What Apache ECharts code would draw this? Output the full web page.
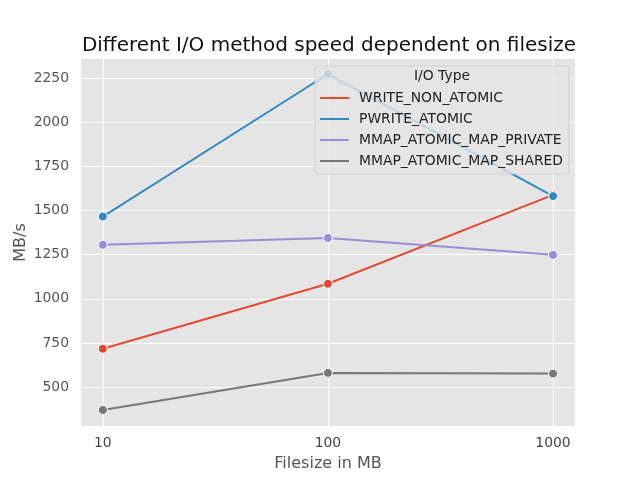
<!DOCTYPE html>
<html><head><meta charset="utf-8">
<script src="https://cdn.jsdelivr.net/npm/echarts@6/dist/echarts.min.js"></script>
<style>html,body{margin:0;padding:0;background:#fff}#c{width:640px;height:480px}</style>
</head><body><div id="c"></div>
<script>
const fileSizes = [10, 100, 1000];
const writeNonAtomic = [717, 1085, 1589];
const pwriteAtomic = [1466, 2274, 1582];
const mmapPrivate = [1306, 1345, 1249];
const mmapShared = [370, 580, 576];
const yTicks = [500, 750, 1000, 1250, 1500, 1750, 2000, 2250];
const xTicks = [10, 100, 1000];
const seriesNames = ['WRITE_NON_ATOMIC', 'PWRITE_ATOMIC', 'MMAP_ATOMIC_MAP_PRIVATE', 'MMAP_ATOMIC_MAP_SHARED'];
const seriesValues = [writeNonAtomic, pwriteAtomic, mmapPrivate, mmapShared];
const colors = ['#E24A33', '#348ABD', '#988ED5', '#777777'];
const FONT = 'DejaVu Sans';

const chart = echarts.init(document.getElementById('c'), null, {renderer: 'canvas'});
chart.setOption({
  animation: false,
  color: colors,
  backgroundColor: '#ffffff',
  textStyle: {fontFamily: FONT},
  title: {
    text: 'Different I/O method speed dependent on filesize',
    left: 324, top: 31, textAlign: 'center',
    textStyle: {fontFamily: FONT, fontSize: 20, fontWeight: 'normal', color: '#111'}
  },
  grid: {left: 81, right: 65, top: 59, bottom: 54, show: true, backgroundColor: '#E5E5E5', borderWidth: 0, outerBoundsMode: 'none'},
  xAxis: {
    type: 'log', logBase: 10, min: 8, max: 1252,
    name: 'Filesize in MB', nameLocation: 'middle', nameGap: 30, nameMoveOverlap: false,
    nameTextStyle: {fontFamily: FONT, fontSize: 16, color: '#555'},
    axisLine: {show: false}, axisTick: {show: false, customValues: xTicks},
    axisLabel: {customValues: xTicks, formatter: v => String(v), fontFamily: FONT, fontSize: 13.9, color: '#444', margin: 10},
    splitLine: {show: true, lineStyle: {color: '#ffffff', width: 1}}
  },
  yAxis: {
    type: 'value', min: 279, max: 2359,
    name: 'MB/s', nameLocation: 'middle', nameGap: 52, nameRotate: 90, nameMoveOverlap: false,
    nameTextStyle: {fontFamily: FONT, fontSize: 16, color: '#555'},
    axisLine: {show: false}, axisTick: {show: false, customValues: yTicks},
    axisLabel: {customValues: yTicks, formatter: v => String(v), fontFamily: FONT, fontSize: 13.9, color: '#555', margin: 12},
    splitLine: {show: true, lineStyle: {color: '#ffffff', width: 1}}
  },
  legend: {
    orient: 'vertical', left: 320, top: 90, padding: 0,
    data: seriesNames,
    icon: 'rect', itemWidth: 29, itemHeight: 2, itemGap: 5,
    itemStyle: {borderWidth: 0},
    textStyle: {fontFamily: FONT, fontSize: 13.9, color: '#222', lineHeight: 16, padding: [0, 0, 0, 5]},
    z: 10
  },
  graphic: [
    {type: 'rect', z: 5, shape: {x: 315, y: 66, width: 254, height: 108, r: 3},
     style: {fill: 'rgba(229,229,229,0.8)', stroke: 'rgba(204,204,204,0.8)', lineWidth: 1}},
    {type: 'text', z: 11, x: 442, y: 76,
     style: {text: 'I/O Type', fontFamily: FONT, fontSize: 13.9, fill: '#222', textAlign: 'center', textVerticalAlign: 'middle'}}
  ],
  series: seriesNames.map((name, i) => ({
    name: name, type: 'line', z: 2,
    data: fileSizes.map((x, j) => [x, seriesValues[i][j]]),
    symbol: 'circle', symbolSize: 9,
    lineStyle: {color: colors[i], width: 2},
    itemStyle: {color: colors[i], borderColor: '#ffffff', borderWidth: 1}
  }))
});
</script></body></html>
